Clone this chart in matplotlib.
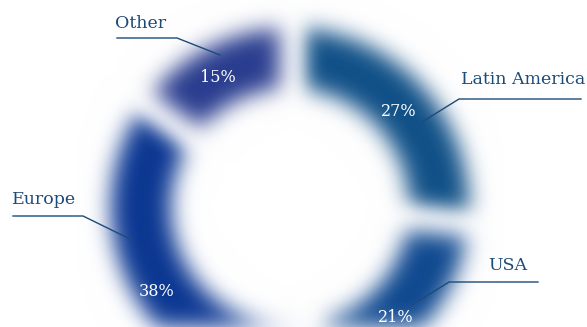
import matplotlib
matplotlib.use('Agg')
import matplotlib.pyplot as plt
import numpy as np

# Regional split (percent, as printed)
regions = ['Latin America', 'USA', 'Europe', 'Other']
shares = [27, 21, 38, 15]
colours = ['#0f4f87', '#0f4890', '#0a3692', '#283b8e']

# label placement (pixels): text anchor, elbow of leader line, ring end of leader
label_text = {'Latin America': (585, 80, 'right'), 'USA': (527, 266, 'right'),
              'Europe': (12, 200, 'left'), 'Other': (115, 23, 'left')}
leader = {'Latin America': [(581, 99), (459, 99), (422, 122)],
          'USA': [(538, 282), (449, 282), (412, 305)],
          'Europe': [(13, 216), (83, 216), (132, 240)],
          'Other': [(117, 38), (177, 38), (220, 55)]}

text_col = '#1d4b78'
serif = ['DejaVu Serif']


def gauss_blur(sigma):
    # agg filter: gaussian blur on premultiplied rgba
    def f(im, dpi):
        s = sigma * dpi / 100.0
        pad = int(3 * s) + 2
        a = np.pad(im, ((pad, pad), (pad, pad), (0, 0)))
        a[..., :3] *= a[..., 3:4]
        x = np.arange(-pad, pad + 1)
        k = np.exp(-0.5 * (x / s) ** 2)
        k /= k.sum()
        out = np.zeros_like(a)
        for i, w in zip(x, k):
            out += w * np.roll(a, i, axis=0)
        a = out
        out = np.zeros_like(a)
        for i, w in zip(x, k):
            out += w * np.roll(a, i, axis=1)
        alpha = out[..., 3:4]
        rgb = np.where(alpha > 1e-6, out[..., :3] / np.maximum(alpha, 1e-6), 0)
        out = np.concatenate([np.clip(rgb, 0, 1), np.clip(alpha, 0, 1)], axis=2)
        return out, -pad, -pad
    return f


fig = plt.figure(figsize=(5.87, 3.27), dpi=100)
ax = fig.add_axes([0, 0, 1, 1])

gap = 15  # white border in points, cuts the gaps between segments
gap_px = gap * 100 / 72
total = sum(shares)
wedges, _, pcts = ax.pie(shares, colors=colours, center=(290, 207),
                         radius=179 + gap_px / 2,
                         startangle=-90, counterclock=True,
                         autopct=lambda p: f'{p * total / 100:.0f}%',
                         pctdistance=0.8,
                         wedgeprops=dict(width=60 + gap_px, edgecolor='white',
                                         linewidth=gap),
                         textprops=dict(color='white', fontsize=11.5, family=serif))
for w in wedges:
    w.set_agg_filter(gauss_blur(11))
    w.set_rasterized(True)
for t in pcts:
    px, py = t.get_position()
    t.set_position((px - 4, py + 6))

for name in regions:
    tx, ty, ha = label_text[name]
    ax.text(tx, ty, name, ha=ha, va='center', color=text_col, fontsize=12.5,
            family=serif)
    xs, ys = zip(*leader[name])
    ax.plot(xs, ys, color=text_col, lw=1)

ax.set_xlim(0, 587)
ax.set_ylim(327, 0)
ax.set_aspect('equal')
ax.axis('off')

fig.savefig('out.png', dpi=100, facecolor='white')
